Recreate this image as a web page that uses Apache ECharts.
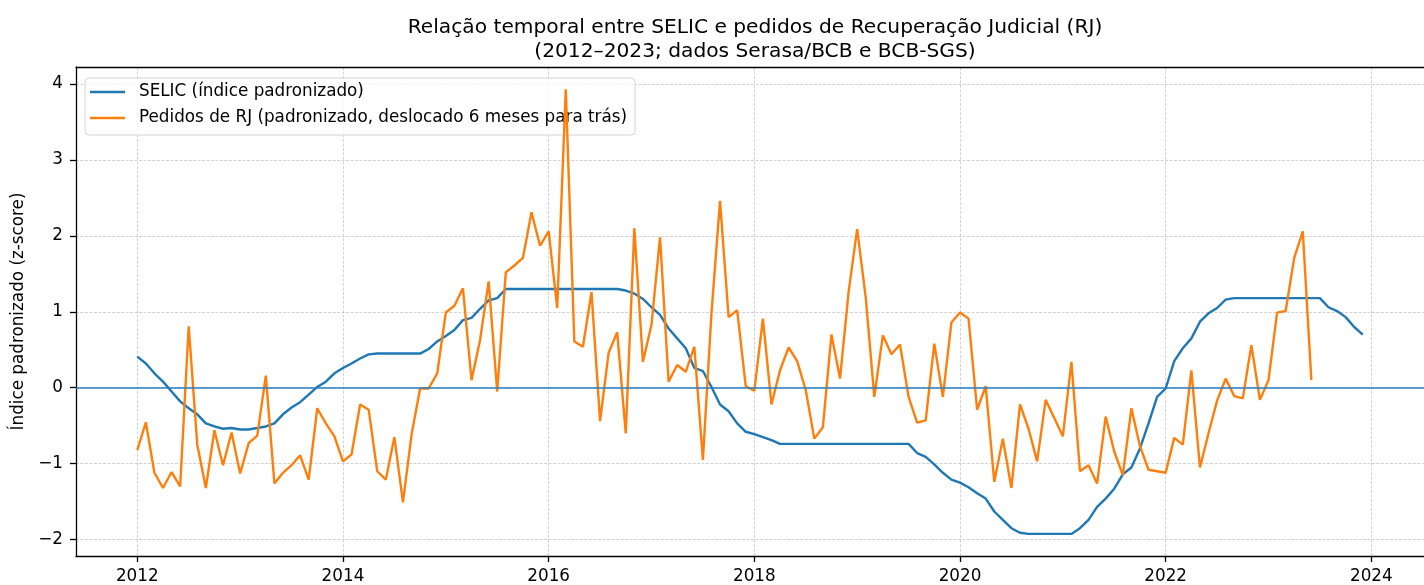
<!DOCTYPE html>
<html>
<head>
<meta charset="utf-8">
<script src="https://cdn.jsdelivr.net/npm/echarts@6/dist/echarts.min.js"></script>
<style>
html,body{margin:0;padding:0;background:#fff;}
#chart{width:1424px;height:585px;}
</style>
</head>
<body>
<div id="chart"></div>
<script>
// Monthly series starting January 2012
const startYear = 2012;
const selic = [
  0.41, 0.32, 0.19, 0.08, -0.05, -0.18, -0.27, -0.35, -0.47, -0.51, -0.54, -0.53,
  -0.55, -0.55, -0.53, -0.51, -0.47, -0.35, -0.26, -0.19, -0.09, 0.01, 0.08, 0.19,
  0.26, 0.32, 0.385, 0.44, 0.45, 0.45, 0.45, 0.45, 0.45, 0.45, 0.51, 0.61,
  0.68, 0.76, 0.89, 0.92, 1.04, 1.15, 1.18, 1.30, 1.30, 1.30, 1.30, 1.30,
  1.30, 1.30, 1.30, 1.30, 1.30, 1.30, 1.30, 1.30, 1.30, 1.28, 1.24, 1.17,
  1.06, 0.96, 0.78, 0.65, 0.52, 0.26, 0.22, 0.01, -0.22, -0.31, -0.47, -0.58,
  -0.61, -0.65, -0.69, -0.74, -0.74, -0.74, -0.74, -0.74, -0.74, -0.74, -0.74, -0.74,
  -0.74, -0.74, -0.74, -0.74, -0.74, -0.74, -0.74, -0.86, -0.91, -1.01, -1.12, -1.21,
  -1.25, -1.31, -1.39, -1.46, -1.63, -1.74, -1.85, -1.91, -1.925, -1.925, -1.925, -1.925,
  -1.925, -1.925, -1.85, -1.74, -1.57, -1.46, -1.33, -1.14, -1.05, -0.80, -0.47, -0.12,
  -0.01, 0.35, 0.52, 0.65, 0.87, 0.98, 1.05, 1.16, 1.18, 1.18, 1.18, 1.18,
  1.18, 1.18, 1.18, 1.18, 1.18, 1.18, 1.18, 1.06, 1.01, 0.93, 0.80, 0.70
];
const pedidosRJ = [
  -0.82, -0.455, -1.12, -1.32, -1.11, -1.30, 0.81, -0.75, -1.32, -0.56, -1.02, -0.59,
  -1.13, -0.73, -0.63, 0.16, -1.26, -1.12, -1.02, -0.89, -1.21, -0.27, -0.47, -0.64,
  -0.97, -0.88, -0.22, -0.29, -1.10, -1.21, -0.65, -1.51, -0.62, -0.01, -0.01, 0.19,
  0.99, 1.08, 1.31, 0.10, 0.63, 1.40, -0.05, 1.52, 1.61, 1.71, 2.31, 1.87,
  2.06, 1.05, 3.93, 0.61, 0.54, 1.26, -0.44, 0.46, 0.73, -0.60, 2.10, 0.34,
  0.83, 1.98, 0.08, 0.30, 0.21, 0.54, -0.95, 0.98, 2.46, 0.93, 1.02, 0.02,
  -0.04, 0.91, -0.22, 0.23, 0.53, 0.35, -0.03, -0.67, -0.52, 0.70, 0.12, 1.26,
  2.09, 1.19, -0.12, 0.69, 0.44, 0.57, -0.12, -0.46, -0.43, 0.58, -0.12, 0.86,
  0.99, 0.91, -0.29, 0.02, -1.24, -0.67, -1.32, -0.22, -0.54, -0.97, -0.16, -0.40,
  -0.64, 0.34, -1.10, -1.02, -1.26, -0.38, -0.84, -1.15, -0.27, -0.77, -1.08, -1.10,
  -1.12, -0.66, -0.75, 0.23, -1.05, -0.60, -0.17, 0.12, -0.11, -0.14, 0.56, -0.16,
  0.10, 0.99, 1.01, 1.71, 2.06, 0.10
];
const xTicks = [2012, 2014, 2016, 2018, 2020, 2022, 2024];
const yTicks = [-2, -1, 0, 1, 2, 3, 4];
const zeroLevel = 0;
const titleText = 'Relação temporal entre SELIC e pedidos de Recuperação Judicial (RJ)\n(2012–2023; dados Serasa/BCB e BCB-SGS)';
const nameSelic = 'SELIC (índice padronizado)';
const nameRJ = 'Pedidos de RJ (padronizado, deslocado 6 meses para trás)';
const yName = 'Índice padronizado (z-score)';

function toPairs(arr) { return arr.map((v, i) => [startYear + i / 12, v]); }

const FONT = 'DejaVu Sans';
const FS = 16.8;
const gridLine = { show: true, lineStyle: { color: 'rgba(160,160,160,0.6)', width: 0.8, type: [3, 1.5] } };
const minus = v => String(v).replace('-', '\u2212');

const chart = echarts.init(document.getElementById('chart'), null, { renderer: 'canvas' });
chart.setOption({
  animation: false,
  backgroundColor: '#fff',
  textStyle: { fontFamily: FONT },
  title: {
    text: titleText,
    left: 755, top: 16, padding: 0,
    textAlign: 'center',
    textStyle: { fontFamily: FONT, fontSize: 20.2, fontWeight: 'normal', color: '#000', lineHeight: 24 }
  },
  legend: {
    orient: 'vertical', left: 85, top: 78,
    padding: [5, 8, 8, 5],
    itemGap: 8, itemWidth: 35, itemHeight: 2.4,
    icon: 'rect',
    backgroundColor: 'rgba(255,255,255,0.8)',
    borderColor: '#d4d4d4', borderWidth: 1, borderRadius: 4,
    textStyle: { fontFamily: FONT, fontSize: FS, color: '#000', lineHeight: 18, padding: [0, 0, 0, 9] },
    data: [nameSelic, nameRJ]
  },
  grid: { left: 76, top: 67, bottom: 27, right: -10, containLabel: false },
  xAxis: [{
    type: 'value', min: 2011.404, max: 2024.512,
    minInterval: 2, maxInterval: 2,
    axisLine: { show: true, onZero: false, lineStyle: { color: '#000', width: 1.3 } },
    axisTick: { show: true, length: 6, lineStyle: { color: '#000', width: 1.3 }, customValues: xTicks },
    axisLabel: { customValues: xTicks, margin: 12, fontFamily: FONT, fontSize: FS, color: '#000', formatter: v => String(Math.round(v)) },
    splitLine: gridLine
  }, {
    type: 'value', position: 'top', min: 2011.404, max: 2024.512,
    axisLine: { show: true, onZero: false, lineStyle: { color: '#000', width: 1.3 } },
    axisTick: { show: false }, axisLabel: { show: false }, splitLine: { show: false }
  }],
  yAxis: {
    type: 'value', min: -2.216, max: 4.224,
    minInterval: 1, maxInterval: 1,
    name: yName, nameLocation: 'middle', nameGap: 42,
    nameTextStyle: { fontFamily: FONT, fontSize: FS, color: '#000' },
    axisLine: { show: true, onZero: false, lineStyle: { color: '#000', width: 1.3 } },
    axisTick: { show: true, length: 6, lineStyle: { color: '#000', width: 1.3 }, customValues: yTicks },
    axisLabel: { customValues: yTicks, margin: 13, fontFamily: FONT, fontSize: FS, color: '#000', formatter: minus },
    splitLine: gridLine
  },
  series: [{
    name: nameSelic, type: 'line', data: toPairs(selic),
    showSymbol: false, symbol: 'none',
    lineStyle: { color: '#1f77b4', width: 2.4 }, itemStyle: { color: '#1f77b4' },
    z: 3,
    markLine: {
      silent: true, symbol: ['none', 'none'], label: { show: false },
      z: 5,
      emphasis: { disabled: true },
      lineStyle: { color: '#2a7cc0', width: 1.5, type: 'solid', opacity: 1 },
      data: [{ yAxis: zeroLevel, lineStyle: { color: '#2a7cc0', width: 1.5, type: 'solid' } }]
    }
  }, {
    name: nameRJ, type: 'line', data: toPairs(pedidosRJ),
    showSymbol: false, symbol: 'none',
    lineStyle: { color: '#ff7f0e', width: 2.4 }, itemStyle: { color: '#ff7f0e' },
    z: 4
  }]
});
</script>
</body>
</html>
